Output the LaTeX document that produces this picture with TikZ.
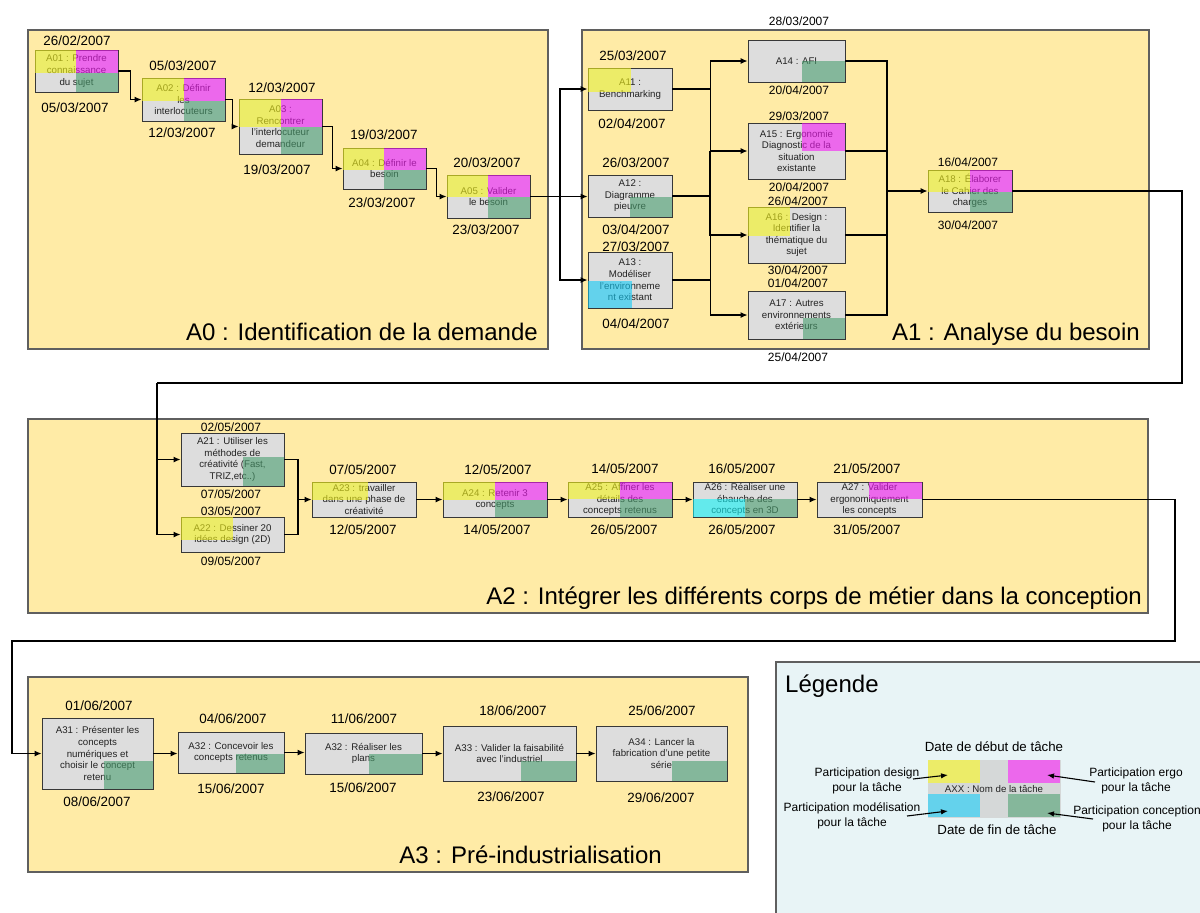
\documentclass[tikz,border=0pt]{standalone}
\usepackage{fontspec}
\setmainfont{Liberation Sans}
\usetikzlibrary{arrows.meta}
\definecolor{panelY}{RGB}{255,235,166}
\definecolor{panelLine}{RGB}{95,95,95}
\definecolor{boxG}{RGB}{221,221,221}
\definecolor{boxLine}{RGB}{55,55,55}
\definecolor{txtC}{RGB}{35,35,35}
\definecolor{cY}{RGB}{246,246,26}
\definecolor{cM}{RGB}{246,26,246}
\definecolor{cG}{RGB}{74,158,111}
\definecolor{cC}{RGB}{19,203,246}
\definecolor{cCb}{RGB}{19,243,246}
\definecolor{lY}{RGB}{236,236,104}
\definecolor{lM}{RGB}{236,104,236}
\definecolor{lG}{RGB}{133,183,155}
\definecolor{lC}{RGB}{100,210,236}
\definecolor{legBg}{RGB}{232,244,246}
\definecolor{legMid}{RGB}{213,216,216}
\newcommand\fntBox{\fontsize{9.7}{11.6}\selectfont}
\newcommand\fntDate{\fontsize{13.4}{15}\selectfont}
\newcommand\fntDs{\fontsize{12}{14}\selectfont}
\newcommand\fntTitle{\fontsize{24}{28}\selectfont}
\newcommand\fntLeg{\fontsize{12}{15}\selectfont}
\newcommand\tbox[6]{%
  \pgfmathsetmacro\tbW{#4-#2}\pgfmathsetmacro\tbH{#5-#3}%
  \pgfmathsetmacro\tbX{(#2+#4)/2}\pgfmathsetmacro\tbY{(#3+#5)/2}%
  \node[task, minimum width=\tbW pt, minimum height=\tbH pt] (#1) at (\tbX,\tbY) {#6};}
\newcommand\ov[5]{\fill[#1] (#2,#3) rectangle (#4,#5);}
\tikzset{
  panel/.style={draw=panelLine, fill=panelY, line width=1.1pt},
  task/.style={draw=boxLine, fill=boxG, line width=0.9pt, inner sep=0pt, align=center, font=\fntBox, text=txtC},
  dB/.style={font=\fntDate, inner sep=0pt, text=black},
  dS/.style={font=\fntDs, inner sep=0pt, text=black},
  ttl/.style={font=\fntTitle, inner sep=0pt, anchor=base east, text=black},
  conn/.style={line width=1.2pt, draw=black},
  arr/.style={conn, -{Latex[length=7pt,width=6pt]}},
  oY/.style={fill=cY, fill opacity=0.6},
  oM/.style={fill=cM, fill opacity=0.6},
  oG/.style={fill=cG, fill opacity=0.6},
  oC/.style={fill=cC, fill opacity=0.6},
  oCb/.style={fill=cCb, fill opacity=0.6},
  leglab/.style={font=\fntLeg, align=center, inner sep=0pt, text=black},
  legarr/.style={line width=1.1pt, -{Latex[length=7pt,width=5.5pt]}},
}
\begin{document}
\begin{tikzpicture}[x=1pt,y=-1pt]
\useasboundingbox (0,0) rectangle (1200,913);
\clip (0,0) rectangle (1200,913);
\fill[white] (0,0) rectangle (1200,913);

% panels
\draw[panel] (28,30) rectangle (548,349);
\draw[panel] (582,30) rectangle (1149,349);
\draw[panel] (28,419) rectangle (1148,613);
\draw[panel] (28,677) rectangle (748,872);
\draw[draw=panelLine, fill=legBg, line width=1.1pt] (776,662) rectangle (1215,930);

\node[ttl] (T0) at (538,340) {A0 : Identification de la demande};
\node[ttl] (T1) at (1140,340) {A1 : Analyse du besoin};
\node[ttl] (T2) at (1142,604) {A2 : Intégrer les différents corps de métier dans la conception};
\node[ttl] (T3) at (662,863) {A3 : Pré-industrialisation};
\node[font=\fntTitle, inner sep=0pt, anchor=base west] (TL) at (785,692) {Légende};

% A0 boxes
\tbox{A01}{35}{50}{118}{92}{A01 : Prendre\\connaissance\\du sujet}
\tbox{A02}{142}{78}{225}{121}{A02 : Définir\\les\\interlocuteurs}
\tbox{A03}{239}{99}{322}{154}{A03 :\\Rencontrer\\l'interlocuteur\\demandeur}
\tbox{A04}{343}{148}{426}{189}{A04 : Définir le\\besoin}
\tbox{A05}{447}{175}{530}{218}{A05 : Valider\\le besoin}
% A1 boxes
\tbox{A11}{588}{68}{672}{110}{A11 :\\Benchmarking}
\tbox{A12}{588}{175}{672}{217}{A12 :\\Diagramme\\pieuvre}
\tbox{A13}{588}{252}{672}{308}{A13 :\\Modéliser\\l'environneme\\nt existant}
\tbox{A14}{748}{40}{845}{82}{A14 : AFI}
\tbox{A15}{748}{123}{845}{179}{A15 : Ergonomie\\Diagnostic de la\\situation\\existante}
\tbox{A16}{748}{207}{845}{263}{A16 : Design :\\Identifier la\\thématique du\\sujet}
\tbox{A17}{748}{291}{845}{339}{A17 : Autres\\environnements\\extérieurs}
\tbox{A18}{928}{170}{1012}{212}{A18 : Élaborer\\le Cahier des\\charges}
% A2 boxes
\tbox{A21}{181}{433}{284}{486}{A21 : Utiliser les\\méthodes de\\créativité (Fast,\\TRIZ,etc..)}
\tbox{A22}{181}{517}{284}{552}{A22 : Dessiner 20\\idées design (2D)}
\tbox{A23}{312}{482}{416}{517}{A23 : travailler\\dans une phase de\\créativité}
\tbox{A24}{443}{482}{547}{517}{A24 : Retenir 3\\concepts}
\tbox{A25}{568}{482}{672}{517}{A25 : Affiner les\\détails des\\concepts retenus}
\tbox{A26}{693}{482}{797}{517}{A26 : Réaliser une\\ébauche des\\concepts en 3D}
\tbox{A27}{817}{482}{922}{517}{A27 : Valider\\ergonomiquement\\les concepts}
% A3 boxes
\tbox{A31}{42}{718}{153}{789}{A31 : Présenter les\\concepts\\numériques et\\choisir le concept\\retenu}
\tbox{A32a}{178}{732}{284}{773}{A32 : Concevoir les\\concepts retenus}
\tbox{A32b}{305}{733}{422}{774}{A32 : Réaliser les\\plans}
\tbox{A33}{443}{726}{576}{781}{A33 : Valider la faisabilité\\avec l'industriel}
\tbox{A34}{596}{726}{727}{781}{A34 : Lancer la\\fabrication d'une petite\\série}

% colour overlays
\ov{oY}{35}{50}{76}{73}\ov{oM}{76}{50}{118}{73}\ov{oG}{76}{73}{118}{92}
\ov{oY}{142}{78}{184}{101}\ov{oM}{184}{78}{225}{101}\ov{oG}{184}{101}{225}{121}
\ov{oY}{239}{99}{281}{127}\ov{oM}{281}{99}{322}{127}\ov{oG}{281}{127}{322}{154}
\ov{oY}{343}{148}{384}{170}\ov{oM}{384}{148}{426}{170}\ov{oG}{384}{170}{426}{189}
\ov{oY}{447}{175}{488}{197}\ov{oM}{488}{175}{530}{197}\ov{oG}{488}{197}{530}{218}
\ov{oY}{588}{68}{631}{92}
\ov{oG}{630}{197}{672}{217}
\ov{oC}{588}{281}{632}{308}
\ov{oG}{802}{61}{845}{82}
\ov{oM}{802}{123}{845}{151}
\ov{oY}{748}{207}{790}{236}
\ov{oG}{803}{318}{845}{339}
\ov{oY}{928}{170}{970}{192}\ov{oM}{970}{170}{1012}{192}\ov{oG}{970}{192}{1012}{212}
\ov{oG}{243}{457}{284}{486}
\ov{oY}{181}{517}{233}{540}
\ov{oY}{312}{482}{368}{500}
\ov{oY}{443}{482}{495}{500}\ov{oM}{495}{482}{547}{500}\ov{oG}{495}{500}{547}{517}
\ov{oY}{568}{482}{620}{499}\ov{oM}{620}{482}{672}{499}\ov{oG}{620}{499}{672}{517}
\ov{oCb}{693}{499}{745}{517}\ov{oG}{745}{499}{797}{517}
\ov{oM}{869}{482}{922}{499}
\ov{oG}{104}{761}{153}{789}
\ov{oG}{236}{754}{284}{773}
\ov{oG}{369}{754}{422}{774}
\ov{oG}{521}{761}{576}{781}
\ov{oG}{672}{761}{727}{781}

% dates
\node[dB] (dA01a) at (77,41) {26/02/2007};
\node[dB] (dA01b) at (75,108) {05/03/2007};
\node[dB] (dA02a) at (183,66) {05/03/2007};
\node[dB] (dA02b) at (182,133) {12/03/2007};
\node[dB] (dA03a) at (282,88) {12/03/2007};
\node[dB] (dA03b) at (277,170) {19/03/2007};
\node[dB] (dA04a) at (384,135) {19/03/2007};
\node[dB] (dA04b) at (382,203) {23/03/2007};
\node[dB] (dA05a) at (487,163) {20/03/2007};
\node[dB] (dA05b) at (486,230) {23/03/2007};
\node[dB] (dA11a) at (633,56) {25/03/2007};
\node[dB] (dA11b) at (632,124) {02/04/2007};
\node[dB] (dA12a) at (636,163) {26/03/2007};
\node[dB] (dA12b) at (636,230) {03/04/2007};
\node[dB] (dA13a) at (636,247) {27/03/2007};
\node[dB] (dA13b) at (636,324) {04/04/2007};
\node[dS] (dA14a) at (799,21) {28/03/2007};
\node[dS] (dA14b) at (799,90) {20/04/2007};
\node[dS] (dA15a) at (799,116) {29/03/2007};
\node[dS] (dA15b) at (799,187) {20/04/2007};
\node[dS] (dA16a) at (798,201) {26/04/2007};
\node[dS] (dA16b) at (798,270) {30/04/2007};
\node[dS] (dA17a) at (798,283) {01/04/2007};
\node[dS] (dA17b) at (798,357) {25/04/2007};
\node[dS] (dA18a) at (968,162) {16/04/2007};
\node[dS] (dA18b) at (968,225) {30/04/2007};
\node[dS] (dA21a) at (231,427) {02/05/2007};
\node[dS] (dA21b) at (231,494) {07/05/2007};
\node[dS] (dA22a) at (231,511) {03/05/2007};
\node[dS] (dA22b) at (231,561) {09/05/2007};
\node[dB] (dA23a) at (363,470) {07/05/2007};
\node[dB] (dA23b) at (363,530) {12/05/2007};
\node[dB] (dA24a) at (498,470) {12/05/2007};
\node[dB] (dA24b) at (497,530) {14/05/2007};
\node[dB] (dA25a) at (625,469) {14/05/2007};
\node[dB] (dA25b) at (624,530) {26/05/2007};
\node[dB] (dA26a) at (742,469) {16/05/2007};
\node[dB] (dA26b) at (742,530) {26/05/2007};
\node[dB] (dA27a) at (867,469) {21/05/2007};
\node[dB] (dA27b) at (867,530) {31/05/2007};
\node[dB] (dA31a) at (99,706) {01/06/2007};
\node[dB] (dA31b) at (97,802) {08/06/2007};
\node[dB] (dA32a) at (233,719) {04/06/2007};
\node[dB] (dA32b) at (231,789) {15/06/2007};
\node[dB] (dA32c) at (364,719) {11/06/2007};
\node[dB] (dA32d) at (363,788) {15/06/2007};
\node[dB] (dA33a) at (513,711) {18/06/2007};
\node[dB] (dA33b) at (511,797) {23/06/2007};
\node[dB] (dA34a) at (662,711) {25/06/2007};
\node[dB] (dA34b) at (661,798) {29/06/2007};

% connectors A0
\draw[arr] (A01.east) -- ++(12,0) |- (A02.west);
\draw[arr] (A02.east) -- ++(7,0) |- (A03.west);
\draw[arr] (A03.east) -- ++(10,0) |- (A04.west);
\draw[arr] (A04.east) -- ++(10,0) |- (A05.west);
\coordinate (b1) at (560,196.5);
\draw[arr] (A05.east) -- (A05.east -| A12.west);
\draw[arr] (b1) |- (A11.west);
\draw[arr] (b1) |- (A13.west);
% A1 fan out
\coordinate (b2) at (710,196);
\draw[arr] (A11.east) -- ++(38,0) |- (A14.west);
\draw[arr] (A11.east) -- ++(38,0) |- (A15.west);
\draw[arr] (A12.east) -- (b2) |- (A16.west);
\draw[conn] (b2) -- ++(0,-45);
\draw[arr] (A13.east) -- ++(38,0) |- (A17.west);
\draw[conn] (A13.east) -- ++(38,0) -- ++(0,-45);
% A1 fan in
\coordinate (j2) at (887,191);
\draw[conn] (A14.east) -| (j2);
\draw[conn] (A15.east) -| (j2);
\draw[conn] (A16.east) -| (j2);
\draw[conn] (A17.east) -| (j2);
\draw[arr] (j2) -- (A18.west);
% to A2
\coordinate (t1) at (1182,383);
\coordinate (t2) at (157,383);
\draw[conn] (A18.east) -| (t1) -- (t2);
\draw[arr] (t2) |- (A21.west);
\draw[arr] (t2) |- (A22.west);
\coordinate (j3) at (298,499.5);
\draw[conn] (A21.east) -| (j3);
\draw[conn] (A22.east) -| (j3);
\draw[arr] (j3) -- (A23.west);
\draw[arr] (A23.east) -- (A24.west);
\draw[arr] (A24.east) -- (A25.west);
\draw[arr] (A25.east) -- (A26.west);
\draw[arr] (A26.east) -- (A27.west);
% to A3
\coordinate (t3) at (1175,641);
\coordinate (t4) at (12,641);
\draw[arr] (A27.east) -| (t3) -- (t4) |- (A31.west);
\draw[arr] (A31.east) -- (A31.east -| A32a.west);
\draw[arr] (A32a.east) -- (A32a.east -| A32b.west);
\draw[arr] (A32b.east) -- (A32b.east -| A33.west);
\draw[arr] (A33.east) -- (A34.west);

% legend
\node[fill=legMid, draw=legMid, minimum width=132pt, minimum height=57pt, inner sep=0pt] (LB) at (994,788.5) {};
\fill[lY] (928,760) rectangle (980,783);
\fill[lM] (1008,760) rectangle (1060,783);
\fill[lC] (928,794) rectangle (980,817);
\fill[lG] (1008,794) rectangle (1060,817);
\node[font=\fntBox, inner sep=0pt, text=txtC] (LN) at (994,789) {AXX : Nom de la tâche};
\node[font=\fontsize{13.3}{15}\selectfont, inner sep=0pt] (LD1) at (994,747) {Date de début de tâche};
\node[font=\fontsize{13.3}{15}\selectfont, inner sep=0pt] (LD2) at (997,830) {Date de fin de tâche};
\node[leglab] (L1) at (867,780.5) {Participation design\\pour la tâche};
\node[leglab] (L2) at (1136,780.5) {Participation ergo\\pour la tâche};
\node[leglab] (L3) at (852,815.5) {Participation modélisation\\pour la tâche};
\node[leglab] (L4) at (1137,819) {Participation conception\\pour la tâche};
\coordinate (pY) at (948,775);
\coordinate (pM) at (1047,775);
\coordinate (pC) at (948,811);
\coordinate (pG) at (1047,813);
\coordinate (sY) at (913,779);
\coordinate (sM) at (1095,782);
\coordinate (sC) at (907,816);
\coordinate (sG) at (1093,819);
\draw[legarr] (sY) -- (pY);
\draw[legarr] (sM) -- (pM);
\draw[legarr] (sC) -- (pC);
\draw[legarr] (sG) -- (pG);
\end{tikzpicture}
\end{document}
